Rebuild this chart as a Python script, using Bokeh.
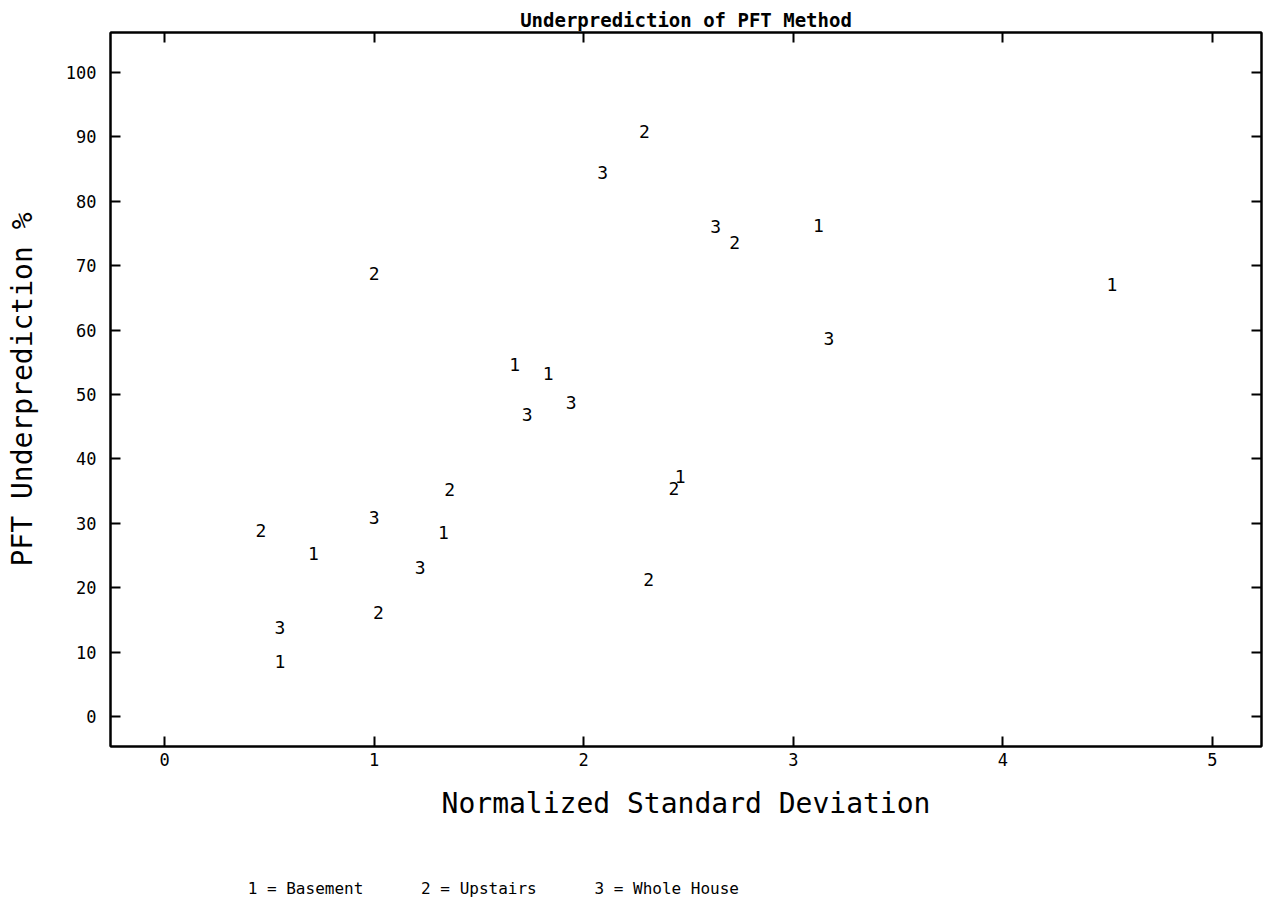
from bokeh.plotting import figure
from bokeh.models import Range1d, LinearAxis, FixedTicker, ColumnDataSource
from bokeh.core.properties import value
from bokeh.embed import file_html
from bokeh.resources import INLINE

# Data: (normalized std dev, underprediction %)
basement_x = [0.55, 0.71, 1.33, 1.67, 1.83, 2.46, 3.12, 4.52]
basement_y = [8.5, 25.3, 28.6, 54.7, 53.3, 37.3, 76.2, 67.1]
upstairs_x = [0.46, 1.00, 1.02, 1.36, 2.29, 2.72, 2.43, 2.31]
upstairs_y = [28.9, 68.8, 16.1, 35.2, 90.8, 73.6, 35.4, 21.3]
whole_x = [0.55, 1.00, 1.22, 1.73, 1.94, 2.09, 2.63, 3.17]
whole_y = [13.8, 30.9, 23.1, 46.9, 48.8, 84.4, 76.1, 58.7]

x_ticks = [0, 1, 2, 3, 4, 5]
y_ticks = [0, 10, 20, 30, 40, 50, 60, 70, 80, 90, 100]

title_text = "Underprediction of PFT Method"
x_title = "Normalized Standard Deviation"
y_title = "PFT Underprediction %"
legend_items = ["1 = Basement", "2 = Upstairs", "3 = Whole House"]

MONO = "DejaVu Sans Mono"

p = figure(width=1266, height=908, output_backend="svg", toolbar_location=None,
           x_range=Range1d(-0.258, 5.234), y_range=Range1d(-4.66, 106.2),
           min_border_left=110, min_border_right=5, min_border_top=32,
           min_border_bottom=162)
p.background_fill_color = "white"
p.border_fill_color = "white"
p.outline_line_color = "black"
p.outline_line_width = 2
p.xgrid.visible = False
p.ygrid.visible = False

p.title.text = title_text
p.title.align = "center"
p.title.text_font = MONO
p.title.text_font_size = "19px"
p.title.text_font_style = "bold"
p.title.text_color = "black"
p.title.standoff = 4

def style_axis(ax, ticks, labels=True):
    ax.ticker = FixedTicker(ticks=ticks)
    ax.major_tick_in = 10
    ax.major_tick_out = 0
    ax.minor_tick_in = 0
    ax.minor_tick_out = 0
    ax.axis_line_color = "black"
    ax.axis_line_width = 2
    ax.major_tick_line_width = 2
    ax.major_tick_line_color = "black"
    if labels:
        ax.major_label_text_font = MONO
        ax.major_label_text_font_size = "17px"
        ax.major_label_text_color = "black"
    else:
        ax.major_label_overrides = {t: "" for t in ticks}
        ax.major_label_text_font_size = "1px"
        ax.major_label_standoff = 0

xax = p.xaxis[0]
style_axis(xax, x_ticks)
xax.major_label_standoff = 6
xax.axis_label = x_title
xax.axis_label_text_font = MONO
xax.axis_label_text_font_size = "28px"
xax.axis_label_text_font_style = "normal"
xax.axis_label_text_color = "black"
xax.axis_label_standoff = 18

yax = p.yaxis[0]
style_axis(yax, y_ticks)
yax.major_label_standoff = 14
yax.axis_label = y_title
yax.axis_label_text_font = MONO
yax.axis_label_text_font_size = "28px"
yax.axis_label_text_font_style = "normal"
yax.axis_label_text_color = "black"
yax.axis_label_standoff = 24

top = LinearAxis()
style_axis(top, x_ticks, labels=False)
p.add_layout(top, "above")
right = LinearAxis()
style_axis(right, y_ticks, labels=False)
p.add_layout(right, "right")

# legend line: an unlabelled axis below, carrying the key as its title
NB = "\u00a0"
legend_text = legend_items[0] + NB * 6 + legend_items[1] + NB * 6 + legend_items[2] + NB * 40
key_axis = LinearAxis(axis_line_color=None, major_tick_line_color=None,
                      minor_tick_line_color=None)
key_axis.ticker = FixedTicker(ticks=x_ticks)
key_axis.major_tick_in = 0
key_axis.major_tick_out = 0
key_axis.minor_tick_in = 0
key_axis.minor_tick_out = 0
key_axis.major_label_overrides = {t: "" for t in x_ticks}
key_axis.major_label_text_font_size = "1px"
key_axis.major_label_standoff = 0
key_axis.axis_label = legend_text
key_axis.axis_label_text_font = MONO
key_axis.axis_label_text_font_size = "16px"
key_axis.axis_label_text_font_style = "normal"
key_axis.axis_label_text_color = "black"
key_axis.axis_label_standoff = 56
p.add_layout(key_axis, "below")

for xs, ys, lab in [(basement_x, basement_y, "1"), (upstairs_x, upstairs_y, "2"), (whole_x, whole_y, "3")]:
    src = ColumnDataSource(dict(x=xs, y=ys, t=[lab] * len(xs)))
    p.text(x="x", y="y", text="t", source=src, text_font=value(MONO),
           text_font_size="18px", text_align="center", text_baseline="middle",
           text_color="black")

open("out.html", "w").write(file_html(p, INLINE))
